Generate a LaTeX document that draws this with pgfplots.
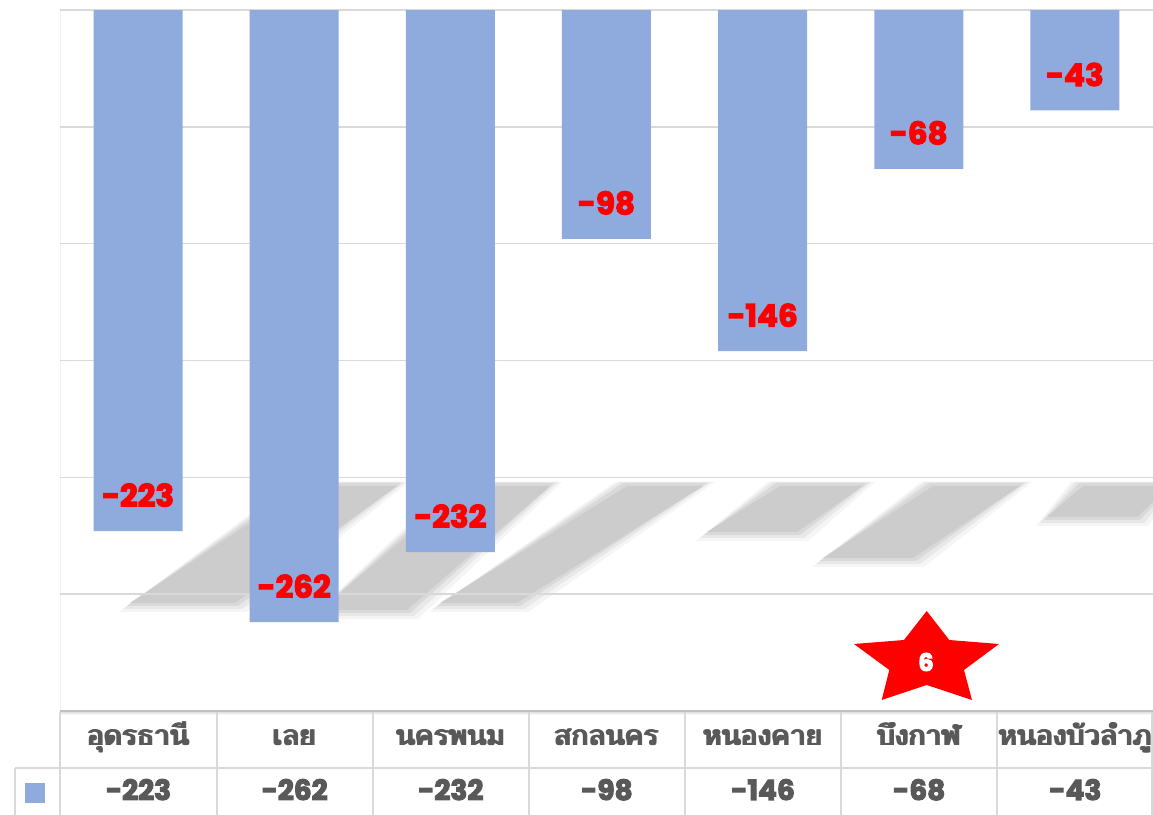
\documentclass[border=0pt]{standalone}
\usepackage{fontspec}
\setmainfont{Poppins}
\newfontfamily\thaifont[Script=Thai]{Loma}
\newcommand\fb[1]{\special{pdf:code 2 Tr 0.55 w}#1\special{pdf:code 0 Tr}}
\newcommand\tb[1]{\makebox[0pt][l]{#1}\kern0.4pt\makebox[0pt][l]{#1}\kern0.4pt\makebox[0pt][l]{#1}\kern0.4pt#1}
\usepackage{pgfplots}
\pgfplotsset{compat=1.18}
\definecolor{barblue}{RGB}{143,170,220}
\definecolor{gridgray}{RGB}{217,217,217}
\definecolor{linegray}{RGB}{191,191,191}
\definecolor{txtgray}{RGB}{89,89,89}
\definecolor{shadowgray}{RGB}{204,204,204}
\begin{document}
\begin{tikzpicture}
\useasboundingbox (0,0) rectangle (576.5pt,407.5pt);
% decorative perspective shadows (pixel coordinates, y downward)
\begin{scope}[x=0.5pt,y=-0.5pt,shift={(0pt,407.5pt)}]
\begin{scope}
\clip (60,482) rectangle (1153,711);
\foreach \a/\b/\yb/\c/\d in {130/235/603/305/397, 320/407/610/465/550, 440/517/603/627/703, 707/797/532/780/863, 823/913/558/933/1020, 1047/1137/517/1083/1170}{
  \fill[shadowgray!20] (\a-11,\yb+9) -- (\b+11,\yb+9) -- (\d+12,482) -- (\c-12,482) -- cycle;
  \fill[shadowgray!45] (\a-7,\yb+6) -- (\b+7,\yb+6) -- (\d+8,482) -- (\c-8,482) -- cycle;
  \fill[shadowgray!75] (\a-3,\yb+3) -- (\b+3,\yb+3) -- (\d+4,483) -- (\c-4,483) -- cycle;
  \fill[shadowgray] (\a,\yb) -- (\b,\yb) -- (\d,486) -- (\c,486) -- cycle;
}
\end{scope}
\draw[black!5, line width=0.5pt] (60,10) -- (60,711);
\end{scope}
\begin{axis}[
  at={(30pt,52pt)}, anchor=south west,
  scale only axis, width=546.5pt, height=350.5pt,
  xmin=-0.5, xmax=6.5, ymin=-300, ymax=0,
  axis line style={draw=none},
  major tick length=0pt,
  ytick={-300,-250,-200,-150,-100,-50,0}, yticklabels={},
  ymajorgrids, grid style={gridgray, line width=0.8pt},
  xtick={0,1,2,3,4,5,6},
  xticklabels={\tb{อุดรธานี},\tb{เลย},\tb{นครพนม},\tb{สกลนคร},\tb{หนองคาย},\tb{บึงกาฬ},\tb{หนองบัวลำภู}},
  xticklabel style={font={\thaifont\fontsize{14pt}{16pt}\selectfont}, text=txtgray, anchor=base, inner sep=0pt, yshift=-17.5pt},
  ybar, bar width=0.57,
  clip=false,
  nodes near coords={\fb{\pgfmathprintnumber[assume math mode=true]{\pgfplotspointmeta}}},
  every node near coord/.append style={font={\bfseries\fontsize{15.5pt}{16pt}\selectfont}, text=red, anchor=center, yshift=18pt},
]
\addplot[fill=barblue, draw=none] coordinates {(0,-223) (1,-262) (2,-232) (3,-98) (4,-146) (5,-68) (6,-43)};
\end{axis}
% data table and star (pixel coordinates)
\begin{scope}[x=0.5pt,y=-0.5pt,shift={(0pt,407.5pt)}]
\foreach \i in {1,...,4}{
  \draw[black!\the\numexpr 20-4*\i\relax, line width=0.5pt] (60,711+\i) -- (1153,711+\i);
}
\draw[linegray, line width=1.2pt] (60,711) -- (1153,711);
\draw[gridgray, line width=1pt] (15,768) -- (1153,768);
\foreach \xx in {217,373,529,685,841,997,1152}{
  \draw[gridgray, line width=1pt] (\xx,712) -- (\xx,815);
}
\draw[gridgray, line width=1pt] (60,712) -- (60,815);
\draw[gridgray, line width=1pt] (15,768) -- (15,815);
\fill[barblue] (25,783) rectangle (45,803);
\foreach \k/\v in {0/-223,1/-262,2/-232,3/-98,4/-146,5/-68,6/-43}{
  \node[anchor=base, inner sep=0pt, text=txtgray, font={\bfseries\fontsize{14pt}{16pt}\selectfont}] at (138.5+156.14*\k,800) {\fb{\v}};
}
\fill[red] (926.7,611) -- (949.3,640) -- (999,644) -- (964,670) -- (972,700) -- (926.7,685) -- (881.7,700) -- (889.3,670) -- (854,644) -- (904,640) -- cycle;
\node[text=white, font={\bfseries\fontsize{12pt}{14pt}\selectfont}, inner sep=0pt] at (926,662) {\fb{6}};
\end{scope}
\end{tikzpicture}
\end{document}
